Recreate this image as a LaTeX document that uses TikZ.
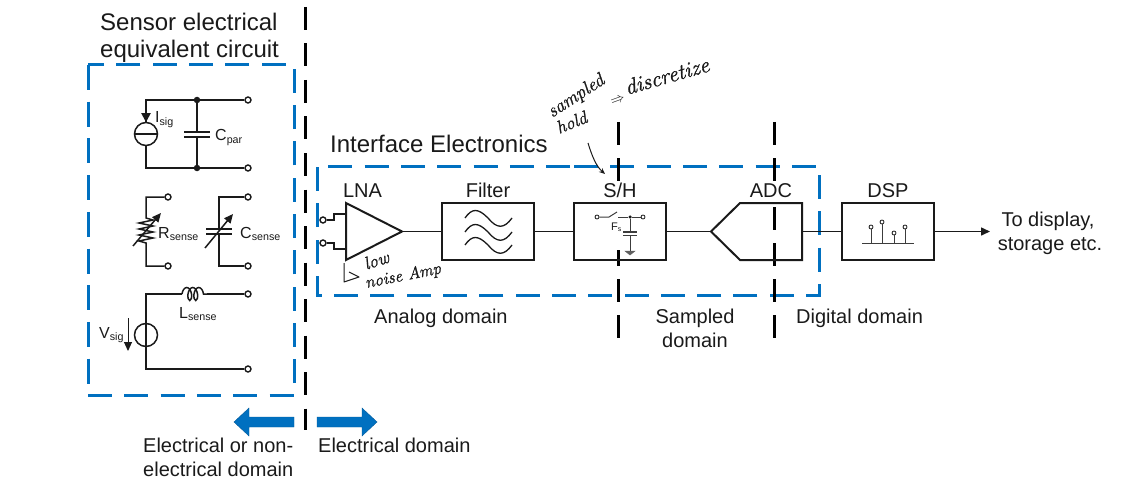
\documentclass[tikz,border=0pt]{standalone}
\usepackage{fontspec}
\setmainfont{Liberation Sans}
\newfontfamily\handfont[FakeBold=1.2]{Latin Modern Roman}
\usetikzlibrary{arrows.meta,decorations.pathmorphing,calc}
\definecolor{pptblue}{HTML}{0070C0}
\definecolor{ink}{HTML}{1A1A1A}
\newcommand{\fsz}[1]{\fontsize{#1}{#1}\selectfont}
\newcommand{\lab}[2]{#1\raisebox{-2.6pt}{\fsz{10.7}#2}}
\tikzset{
  txt/.style={anchor=base west,inner sep=0pt,text=ink},
  ttl/.style={txt,font=\fsz{24}},
  big/.style={txt,font=\fsz{20}},
  ctr/.style={anchor=base,inner sep=0pt,text=ink,font=\fsz{20}},
  sym/.style={txt,font=\fsz{16}},
  hand/.style={anchor=base west,inner sep=0pt,text=ink,font=\handfont\itshape},
  blk/.style={draw=ink,line width=2pt,fill=white,minimum width=92pt,minimum height=57pt,inner sep=0pt},
  bx/.style={draw=ink,line width=2pt},
  wire/.style={draw=ink,line width=1.5pt},
  swire/.style={draw=ink!85,line width=1pt},
  term/.style={circle,draw=ink,line width=1.4pt,fill=white,inner sep=0pt,minimum size=6pt},
  sterm/.style={circle,draw=ink,line width=.8pt,fill=white,inner sep=0pt,minimum size=4pt},
  jun/.style={circle,fill=ink,inner sep=0pt,minimum size=6.5pt},
  src/.style={circle,draw=ink,line width=1.5pt,inner sep=0pt,minimum size=23pt},
  bluedash/.style={draw=pptblue,line width=3pt,dash pattern=on 24pt off 12.3pt},
  blackdash/.style={draw=black,line width=3pt},
  bigarrow/.style={fill=pptblue,draw=pptblue!80!black,line width=.4pt},
  arr/.style={-{Triangle[length=9pt,width=8pt]}},
}
\begin{document}
\begin{tikzpicture}[x=1pt,y=-1pt]
\useasboundingbox (0,0) rectangle (1148,484);

% blue boxes
\draw[bluedash] (88,395) -- (294,395) -- (294,65) -- (88,65);
\draw[bluedash,dash pattern=on 25pt off 11.7pt] (88,65) -- (88,395);
\draw[bluedash] (574,166) -- (819,166) -- (819,295) -- (317,295) -- (317,166) -- (574,166);

% titles
\node[ttl] (t1) at (100,31) {Sensor electrical};
\node[ttl] (t2) at (100,58) {equivalent circuit};
\node[ttl] (t3) at (330,152) {Interface Electronics};

% sensor: current source and Cpar
\coordinate (a1) at (146,100);
\coordinate (a2) at (146,168);
\node[term] (a3) at (248,100) {};
\node[term] (a4) at (248,168) {};
\node[jun] (a5) at (197,100) {};
\node[jun] (a6) at (197,168) {};
\node[src] (is) at (146,134) {};
\draw[wire] (is.west) -- (is.east);
\draw[wire] (is.north) -- (a1) -- (a5) -- (a3);
\draw[wire] (is.south) -- (a2) -- (a6) -- (a4);
\draw[wire,fill=ink] (142.5,114) -- (149.5,114) -- (146,120.5) -- cycle;
\coordinate (cp1) at (197,132);
\coordinate (cp2) at (197,137);
\draw[wire] (a5) -- (cp1) (cp2) -- (a6);
\draw[wire,line width=2pt] (184,132) -- (210,132) (184,137) -- (210,137);
\node[sym] (isl) at (155,123) {\lab{I}{sig}};
\node[sym] (cpl) at (215,141) {\lab{C}{par}};

% sensor: resistor
\node[term] (r1) at (168,197) {};
\node[term] (r2) at (168,266) {};
\coordinate (r3) at (146,197);
\coordinate (r4) at (146,266);
\coordinate (r5) at (146,218);
\coordinate (r6) at (146,243);
\draw[wire] (r1) -- (r3) -- (r5)
  -- ++(7,2) -- ++(-14,3) -- ++(14,3) -- ++(-14,3) -- ++(14,3) -- ++(-14,3) -- ++(14,3) -- ++(-14,3) -- (r6)
  -- (r4) -- (r2);
\draw[wire,arr] (133,246) -- (161,213);
\node[sym] (rl) at (158,238) {\lab{R}{sense}};

% sensor: capacitor
\node[term] (c1) at (248,197) {};
\node[term] (c2) at (248,266) {};
\coordinate (c3) at (219,197);
\coordinate (c4) at (219,266);
\draw[wire] (c1) -- (c3) -- (219,229) (219,234) -- (c4) -- (c2);
\draw[wire,line width=2pt] (206,229) -- (232,229) (206,234) -- (232,234);
\draw[wire,arr] (205,248) -- (233,214);
\node[sym] (cl) at (240,238) {\lab{C}{sense}};

% sensor: voltage source and inductor
\coordinate (v1) at (146,294);
\coordinate (v2) at (146,369);
\node[term] (v3) at (248,294) {};
\node[term] (v4) at (248,369) {};
\node[src] (vs) at (146,335) {};
\coordinate (l1) at (182,294);
\coordinate (l2) at (207,294);
\draw[wire] (vs.north) -- (v1) -- (l1);
\draw[wire] (vs.north) -- (vs.south) -- (v2) -- (v4);
\draw[wire] (l2) -- (v3);
\draw[wire,decorate,decoration={coil,amplitude=6.5pt,segment length=6pt,aspect=.5}] (l1) -- (l2);
\coordinate (va) at (128,318);
\coordinate (vb) at (128,351);
\draw[draw=ink,line width=1pt,arr] (va) -- (vb);
\node[sym] (vl) at (99,338) {\lab{V}{sig}};
\node[sym] (ll) at (179,318) {\lab{L}{sense}};

% domain separators
\draw[blackdash,dash pattern=on 23pt off 13.5pt] (305,7) -- (305,430);
\foreach \yy in {122,158,250,279,315}{
  \pgfmathsetmacro\ye{\yy==250?266:\yy+23}
  \draw[blackdash] (618,\yy) -- (618,\ye);
}
\foreach \yy in {122,158,207,243,279,315}{
  \draw[blackdash] (774,\yy) -- (774,\yy+23);
}

% blocks
\node[blk] (flt) at (488,231.5) {};
\node[blk,fill=none] (sh) at (620,231.5) {};
\node[blk] (dsp) at (888,231.5) {};
\coordinate (la) at (346,203);
\coordinate (lb) at (346,260);
\coordinate (lt) at (402,231.5);
\draw[bx] (la) -- (lt) -- (lb) -- cycle;
\coordinate (ad) at (711,231.5);
\coordinate (ae) at (802,231.5);
\draw[bx] (ad) -- (740,203) -- (802,203) -- (802,260) -- (740,260) -- cycle;

% block labels
\node[ctr] (l-lna) at (362.5,197) {LNA};
\node[ctr] (l-flt) at (488,197) {Filter};
\node[ctr] (l-sh) at (620,197) {S/H};
\node[ctr] (l-adc) at (771,197) {ADC};
\node[ctr] (l-dsp) at (888,197) {DSP};

% LNA inputs
\node[term] (i1) at (323,220) {};
\node[term] (i2) at (323,243) {};
\draw[wire] (i1) -- (334,220) -- (334,214) -- (346,214);
\draw[wire] (i2) -- (334,243) -- (334,249) -- (346,249);

% signal chain
\draw[wire] (lt) -- (flt.west);
\draw[wire] (flt.east) -- (sh.west);
\draw[wire] (sh.east) -- (ad);
\draw[wire] (ae) -- (dsp.west);
\coordinate (out) at (990,231.5);
\draw[wire,arr] (dsp.east) -- (out);

% filter waves
\foreach \yy in {218,232,245}{
  \draw[draw=ink,line width=1.3pt] (465,\yy) .. controls (472,\yy-10) and (478,\yy-10) .. (488,\yy)
    .. controls (497,\yy+11) and (504,\yy+11) .. (512,\yy);
}

% S/H symbol
\node[sterm] (s1) at (597,217) {};
\node[sterm] (s2) at (643,217) {};
\node[circle,fill=ink,inner sep=0pt,minimum size=3.5pt] (s3) at (630,217) {};
\coordinate (s4) at (609,217);
\coordinate (s5) at (617,212);
\coordinate (s6) at (618,217);
\draw[swire] (s1) -- (s4) -- (s5);
\draw[swire] (s6) -- (s3) -- (s2);
\draw[swire] (s3) -- (630,232) (630,235.5) -- (630,251);
\draw[swire,line width=1.2pt] (623,232) -- (637,232) (623,235.5) -- (637,235.5);
\draw[fill=ink!70,draw=ink!70,line width=.5pt] (625,251) -- (635,251) -- (630,255) -- cycle;
\node[txt,font=\fsz{11}] (fs) at (611,230) {F\raisebox{-1.5pt}{\fsz{7}s}};

% DSP symbol
\coordinate (d0) at (862,243);
\coordinate (d9) at (914,243);
\draw[swire] (d0) -- (d9);
\foreach \nm/\xx/\yy in {p/871/227,q/882/222,r/894/233,u/905/227}{
  \node[sterm] (\nm) at (\xx,\yy) {};
  \draw[swire] (\nm) -- (\xx,243);
}

% domain labels
\node[big] (d1) at (374,323) {Analog domain};
\node[ctr] (d2a) at (695,323) {Sampled};
\node[ctr] (d2b) at (695,347) {domain};
\node[big] (d3) at (796,323) {Digital domain};
\node[ctr] (o1) at (1048,226) {To display,};
\node[ctr] (o2) at (1050,250) {storage etc.};

% arrows at the bottom
\draw[bigarrow] (294,417) -- (249,417) -- (249,408) -- (234,422) -- (249,436) -- (249,427) -- (294,427) -- cycle;
\draw[bigarrow] (317,417) -- (362,417) -- (362,408) -- (377,422) -- (362,436) -- (362,427) -- (317,427) -- cycle;
\node[big] (e1) at (143,452) {Electrical or non-};
\node[big] (e2) at (143,476) {electrical domain};
\node[big] (e3) at (318,452) {Electrical domain};

% handwritten notes
\node[hand,font=\handfont\itshape\fsz{19},rotate=33] (h1) at (552,118) {sampled};
\node[hand,font=\handfont\itshape\fsz{18},rotate=22] (h2) at (559,134) {hold};
\node[hand,font=\handfont\itshape\fsz{15},rotate=20] (h3) at (612,106) {$\Rightarrow$};
\node[hand,font=\handfont\itshape\fsz{22},rotate=16] (h4) at (627,95) {discretize};
\node[hand,font=\handfont\itshape\fsz{18},rotate=18] (h5) at (366,270) {low};
\node[hand,font=\handfont\itshape\fsz{17},rotate=11] (h6) at (366,288) {noise Amp};
\coordinate (n1) at (588,143);
\coordinate (n2) at (605,174);
\draw[draw=ink,line width=1pt,-{Stealth[length=6pt,width=5pt]}] (n1) .. controls (592,156) and (596,166) .. (n2);
\coordinate (m1) at (344,263);
\coordinate (m2) at (344,282);
\coordinate (m3) at (359,277);
\draw[draw=ink,line width=1pt,line join=round] (m1) -- (m2) -- (m3) -- (349,272);
\end{tikzpicture}
\end{document}
